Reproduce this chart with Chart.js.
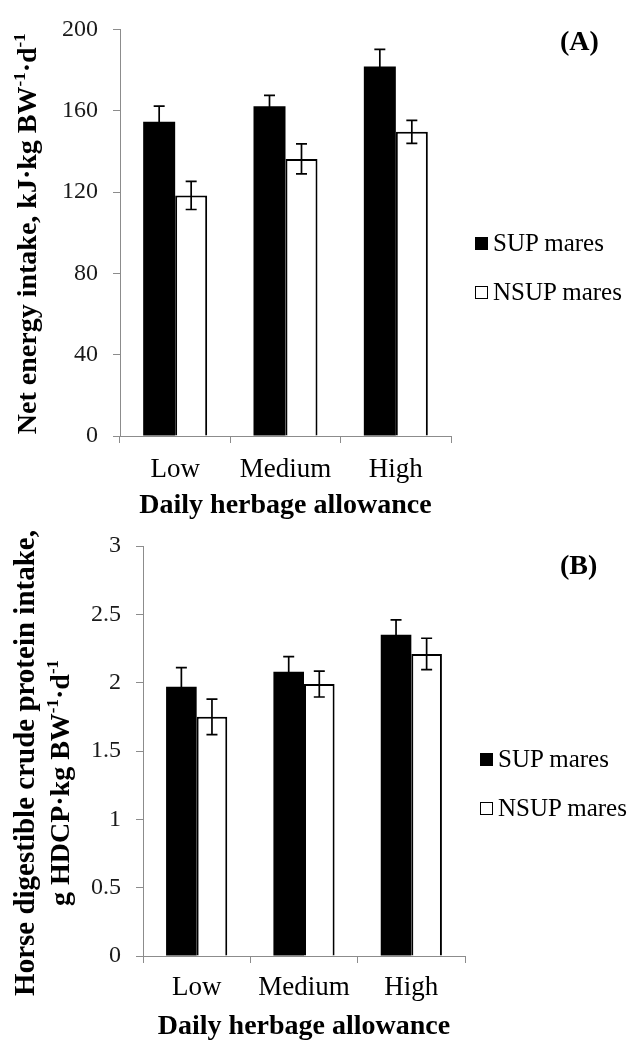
<!DOCTYPE html>
<html>
<head>
<meta charset="utf-8">
<script src="https://cdn.jsdelivr.net/npm/chart.js@4/dist/chart.umd.min.js"></script>
<style>
  body { margin:0; background:#fff; width:631px; height:1044px; position:relative; overflow:hidden;
         font-family:"Liberation Serif","Times New Roman",serif; }
  canvas { position:absolute; left:0; }
  #cA { top:0; }
  #cB { top:510px; }
  .panel { position:absolute; font-weight:bold; font-size:28px; color:#000; line-height:1; }
  .leg { position:absolute; height:30px; display:flex; align-items:center; font-size:25px; color:#000; white-space:nowrap; }
  .leg i { display:inline-block; width:13px; height:13px; box-sizing:border-box; border:1.5px solid #000; margin-right:5px; }
</style>
</head>
<body>
<canvas id="cA" width="631" height="540"></canvas>
<canvas id="cB" width="631" height="534"></canvas>
<div class="panel" style="left:560px;top:27px;">(A)</div>
<div class="panel" style="left:560px;top:551px;">(B)</div>
<div id="legA"></div>
<div id="legB"></div>
<script>
// ---- data ----
const categories = ['Low', 'Medium', 'High'];
const seriesNames = ['SUP mares', 'NSUP mares'];

const supEnergy = [154.6, 162.2, 181.8];
const supEnergyErr = [7.7, 5.3, 8.4];
const nsupEnergy = [118.3, 136.3, 149.6];
const nsupEnergyErr = [6.9, 7.4, 5.7];

const supProtein = [1.97, 2.08, 2.35];
const supProteinErr = [0.14, 0.11, 0.11];
const nsupProtein = [1.75, 1.99, 2.21];
const nsupProteinErr = [0.13, 0.095, 0.115];

const energyTicks = ['0', '40', '80', '120', '160', '200'];
const proteinTicks = ['0', '0.5', '1', '1.5', '2', '2.5', '3'];

const xTitle = 'Daily herbage allowance';
// axis titles with superscript parts
const yTitleA = [[{ t: 'Net energy intake, kJ\u00b7kg BW' }, { t: '-1', sup: true }, { t: '\u00b7d' }, { t: '-1', sup: true }]];
const yTitleB = [
  [{ t: 'Horse digestible crude protein intake,' }],
  [{ t: 'g HDCP\u00b7kg BW' }, { t: '-1', sup: true }, { t: '\u00b7d' }, { t: '-1', sup: true }]
];

const FONT = '"Liberation Serif", "Times New Roman", serif';
const AXIS_GRAY = '#8c8c8c';

// ---- error bar plugin ----
const errorBars = {
  id: 'errorBars',
  afterDatasetsDraw(chart) {
    const ctx = chart.ctx;
    const ys = chart.scales.y;
    ctx.save();
    ctx.strokeStyle = '#000';
    ctx.lineWidth = 1.7;
    chart.data.datasets.forEach((ds, i) => {
      const meta = chart.getDatasetMeta(i);
      meta.data.forEach((bar, j) => {
        const v = ds.data[j], e = ds.errors[j];
        const yt = ys.getPixelForValue(v + e);
        const yb = ys.getPixelForValue(v - e);
        const x = bar.x;
        ctx.beginPath();
        ctx.moveTo(x, yt); ctx.lineTo(x, yb);
        ctx.moveTo(x - 5.5, yt); ctx.lineTo(x + 5.5, yt);
        ctx.moveTo(x - 5.5, yb); ctx.lineTo(x + 5.5, yb);
        ctx.stroke();
      });
    });
    ctx.restore();
  }
};

// ---- rotated y-axis title with superscripts ----
const richTitle = {
  id: 'richTitle',
  afterDraw(chart, args, opts) {
    const ctx = chart.ctx, ca = chart.chartArea;
    const cy = (ca.top + ca.bottom) / 2;
    opts.lines.forEach((parts, k) => {
      const st = opts.style[k];
      const main = `bold ${st.size}px ${FONT}`;
      const sup = `bold ${Math.round(st.size * 0.6)}px ${FONT}`;
      ctx.save();
      let total = 0;
      parts.forEach(p => { ctx.font = p.sup ? sup : main; total += ctx.measureText(p.t).width; });
      ctx.translate(st.x, cy + st.dy);
      ctx.rotate(-Math.PI / 2);
      ctx.fillStyle = '#000';
      ctx.textBaseline = 'middle';
      ctx.textAlign = 'left';
      let x = -total / 2;
      parts.forEach(p => {
        ctx.font = p.sup ? sup : main;
        ctx.fillText(p.t, x, p.sup ? -st.size * 0.3 : 0);
        x += ctx.measureText(p.t).width;
      });
      ctx.restore();
    });
  }
};

function makeChart(id, cfg) {
  return new Chart(document.getElementById(id), {
    type: 'bar',
    data: {
      labels: categories,
      datasets: [
        { label: seriesNames[0], data: cfg.sup, errors: cfg.supErr, backgroundColor: '#000', borderColor: '#000', borderWidth: 0 },
        { label: seriesNames[1], data: cfg.nsup, errors: cfg.nsupErr, backgroundColor: '#fff', borderColor: '#000', borderWidth: 2, borderSkipped: 'bottom' }
      ]
    },
    options: {
      responsive: false,
      animation: false,
      devicePixelRatio: 1,
      layout: { padding: { top: cfg.top, right: cfg.right, bottom: 0, left: 0 } },
      datasets: { bar: { categoryPercentage: cfg.catPct, barPercentage: 1 } },
      plugins: {
        legend: { display: false },
        tooltip: { enabled: false },
        richTitle: { lines: cfg.yTitle, style: cfg.yTitleStyle }
      },
      scales: {
        x: {
          afterFit: s => { s.height = cfg.xHeight; },
          grid: { display: true, drawOnChartArea: false, drawTicks: true, tickLength: 7, color: AXIS_GRAY, offset: true },
          border: { display: true, color: AXIS_GRAY, width: 1 },
          ticks: { color: '#000', font: { family: FONT, size: 27 }, padding: cfg.xTickPad, maxRotation: 0 },
          title: { display: true, text: xTitle, color: '#000', font: { family: FONT, size: 28, weight: 'bold' }, padding: { top: 0, bottom: cfg.xTitlePad } }
        },
        y: {
          min: 0, max: cfg.max,
          afterFit: s => { s.width = cfg.yWidth; },
          grid: { display: true, drawOnChartArea: false, drawTicks: true, tickLength: 7, color: AXIS_GRAY },
          border: { display: true, color: AXIS_GRAY, width: 1 },
          ticks: { stepSize: cfg.step, color: '#1a1a1a', font: { family: FONT, size: 24 }, padding: 15,
                   callback: (v, i) => cfg.tickLabels[i] },
          title: { display: false }
        }
      }
    },
    plugins: [errorBars, richTitle]
  });
}

makeChart('cA', {
  sup: supEnergy, supErr: supEnergyErr, nsup: nsupEnergy, nsupErr: nsupEnergyErr,
  max: 200, step: 40, tickLabels: energyTicks,
  yTitle: yTitleA, yTitleStyle: [{ x: 29, dy: 1, size: 28 }],
  top: 22, right: 180, xHeight: 104, yWidth: 120, catPct: 0.58,
  xTickPad: 11, xTitlePad: 17
});
makeChart('cB', {
  sup: supProtein, supErr: supProteinErr, nsup: nsupProtein, nsupErr: nsupProteinErr,
  max: 3, step: 0.5, tickLabels: proteinTicks,
  yTitle: yTitleB, yTitleStyle: [{ x: 27, dy: 12, size: 29 }, { x: 62, dy: 32, size: 28 }],
  top: 36, right: 166, xHeight: 88, yWidth: 143, catPct: 0.57,
  xTickPad: 9, xTitlePad: 0
});

// ---- legends ----
function legend(id, left, centers) {
  const host = document.getElementById(id);
  seriesNames.forEach((name, k) => {
    const d = document.createElement('div');
    d.className = 'leg';
    d.style.left = left + 'px';
    d.style.top = (centers[k] - 15) + 'px';
    const box = document.createElement('i');
    box.style.background = k === 0 ? '#000' : '#fff';
    d.appendChild(box);
    d.appendChild(document.createTextNode(name));
    host.appendChild(d);
  });
}
legend('legA', 475, [243, 292]);
legend('legB', 480, [759, 808]);
</script>
</body>
</html>
